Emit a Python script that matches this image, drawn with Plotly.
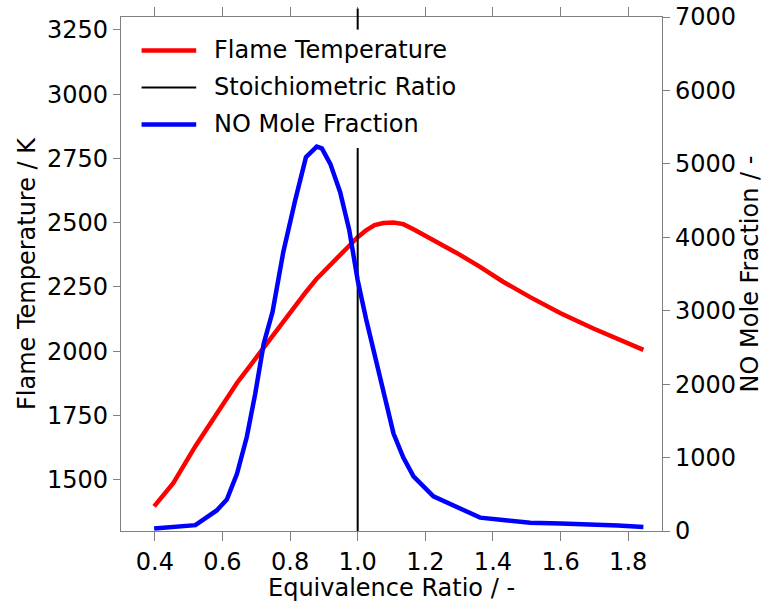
import plotly.graph_objects as go

# ---------------- data ----------------
phi = [0.398, 0.455, 0.52, 0.583, 0.613, 0.643, 0.672, 0.697, 0.722, 0.748,
       0.78, 0.815, 0.847, 0.879, 0.894, 0.919, 0.948, 0.975, 1.0, 1.025,
       1.05, 1.076, 1.106, 1.135, 1.165, 1.224, 1.29, 1.362, 1.43, 1.51,
       1.6, 1.697, 1.77, 1.845]

flame_temp = [1396, 1487, 1630, 1760, 1822, 1876, 1926, 1970, 2014, 2060,
              2115, 2172, 2230, 2282, 2303, 2338, 2375, 2410, 2443, 2470,
              2490, 2498, 2500, 2494, 2474, 2432, 2384, 2328, 2270, 2210,
              2147, 2088, 2046, 2005]

no_frac = [33, 55, 80, 280, 427, 780, 1280, 1870, 2550, 2980,
           3800, 4500, 5090, 5235, 5210, 5000, 4617, 4100, 3415, 2883,
           2416, 1916, 1327, 1000, 745, 473, 334, 182, 150, 114,
           102, 91, 75, 54]

stoich_phi = 1.0
stoich_top_mark = [0.9755, 1.0163]   # small segment drawn above the frame (paper units)

x_ticks = [0.4, 0.6, 0.8, 1.0, 1.2, 1.4, 1.6, 1.8]
t_ticks = [1500, 1750, 2000, 2250, 2500, 2750, 3000, 3250]
no_ticks = [0, 1000, 2000, 3000, 4000, 5000, 6000, 7000]

x_title = "Equivalence Ratio / -"
legend_labels = ["Flame Temperature", "Stoichiometric Ratio", "NO Mole Fraction"]
legend_colors = ["#ff0000", "#000000", "#0000ff"]
legend_widths = [4.5, 2, 4.5]

FONT = "DejaVu Sans"
FS = 24
AX = "#808080"

fig = go.Figure()
fig.add_trace(go.Scatter(x=phi, y=flame_temp, mode="lines",
                         line=dict(color="#ff0000", width=4.5),
                         name=legend_labels[0], showlegend=False, yaxis="y"))
fig.add_trace(go.Scatter(x=[stoich_phi, stoich_phi], y=[0, max(no_frac) - 20], mode="lines",
                         line=dict(color="#000000", width=2),
                         name=legend_labels[1], showlegend=False, yaxis="y2"))
fig.add_trace(go.Scatter(x=phi, y=no_frac, mode="lines",
                         line=dict(color="#0000ff", width=4.5),
                         name=legend_labels[2], showlegend=False, yaxis="y2"))

# small black mark above the frame at stoichiometric ratio
fig.add_shape(type="line", xref="x", yref="paper",
              x0=stoich_phi, x1=stoich_phi, y0=stoich_top_mark[0], y1=stoich_top_mark[1],
              line=dict(color="#000000", width=2))

# manual legend
row_y = [0.935, 0.863, 0.791]
for lab, col, w, yy in zip(legend_labels, legend_colors, legend_widths, row_y):
    fig.add_shape(type="line", xref="paper", yref="paper",
                  x0=0.038, x1=0.139, y0=yy, y1=yy,
                  line=dict(color=col, width=w))
    fig.add_annotation(xref="paper", yref="paper", x=0.169, y=yy,
                       text=lab, showarrow=False, xanchor="left", yanchor="middle",
                       font=dict(family=FONT, size=FS, color="#000000"))

# x-axis title as an annotation (placed just below the tick labels)
fig.add_annotation(xref="paper", yref="paper", x=0.5, y=-0.0803,
                   text=x_title, showarrow=False, xanchor="center", yanchor="top",
                   font=dict(family=FONT, size=FS, color="#000000"))

fig.update_layout(
    width=764, height=601,
    margin=dict(l=121, r=102, t=17, b=70, autoexpand=False),
    plot_bgcolor="white", paper_bgcolor="white",
    font=dict(family=FONT, size=FS, color="#000000"),
    showlegend=False,
    xaxis=dict(range=[0.3, 1.9], tickvals=x_ticks, tickformat=".1f",
               showline=True, linecolor=AX, linewidth=1.3, mirror="ticks",
               ticks="outside", ticklen=9, tickwidth=1.3, tickcolor=AX,
               showgrid=False, zeroline=False, automargin=False),
    yaxis=dict(range=[1300, 3300], tickvals=t_ticks,
               showline=True, linecolor=AX, linewidth=1.3,
               ticks="outside", ticklen=7, tickwidth=1.3, tickcolor=AX,
               showgrid=False, zeroline=False, automargin=False,
               title=dict(text="Flame Temperature / K", standoff=4,
                          font=dict(family=FONT, size=FS))),
    yaxis2=dict(range=[0, 7000], tickvals=no_ticks, overlaying="y", side="right",
                showline=True, linecolor=AX, linewidth=1.3,
                ticks="outside", ticklen=7, tickwidth=1.3, tickcolor=AX,
                showgrid=False, zeroline=False, automargin=False,
                title=dict(text="NO Mole Fraction / -", standoff=2,
                           font=dict(family=FONT, size=FS))),
)

fig.write_html("out.html")
